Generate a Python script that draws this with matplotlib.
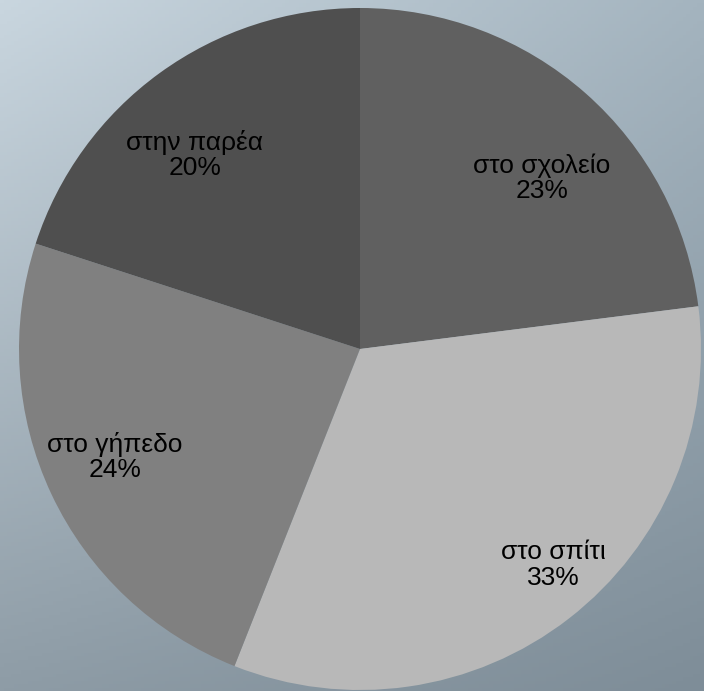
import matplotlib.pyplot as plt
import matplotlib.colors as mcolors
import numpy as np

# data
labels = ['στο σχολείο', 'στο σπίτι', 'στο γήπεδο', 'στην παρέα']
values = [23, 33, 24, 20]
colors = ['#606060', '#b8b8b8', '#808080', '#4f4f4f']
# label placement: distance from centre (radius units), angle nudge (deg)
label_dist = [0.732, 0.851, 0.785, 0.747]
label_shift = [-5.4, 4.1, -1.4, 4.4]

plt.rcParams['font.family'] = ['Liberation Sans', 'DejaVu Sans']

fig = plt.figure(figsize=(7.04, 6.91), dpi=100)

# background gradient (corners: tl, tr, bl, br)
bg = fig.add_axes([0, 0, 1, 1])
tl = np.array(mcolors.to_rgb('#c9d6df'))
tr = np.array(mcolors.to_rgb('#a4b4bf'))
bl = np.array(mcolors.to_rgb('#8e9ca6'))
br = np.array(mcolors.to_rgb('#7e8d98'))
u = np.linspace(0, 1, 200)[None, :, None]
v = np.linspace(0, 1, 200)[:, None, None]
grad = (1 - v) * ((1 - u) * tl + u * tr) + v * ((1 - u) * bl + u * br)
bg.imshow(grad, aspect='auto', extent=[0, 1, 0, 1], origin='upper')
bg.axis('off')

ax = fig.add_axes([0, 0, 1, 1])
ax.patch.set_alpha(0)
wedges, _ = ax.pie(values, colors=colors, startangle=90, counterclock=False,
                   radius=1.0, center=(0, 0))
ax.set_aspect('auto')
R = 341.0
ax.set_xlim(-360 / R, 344 / R)
ax.set_ylim(-342 / R, 349 / R)
ax.axis('off')

for w, lab, val, d, s in zip(wedges, labels, values, label_dist, label_shift):
    ang = np.deg2rad((w.theta1 + w.theta2) / 2 + s)
    ax.text(d * np.cos(ang), d * np.sin(ang), f'{lab}\n{val}%',
            ha='center', va='center', fontsize=19, color='black',
            linespacing=1.09)

fig.savefig('out.png', dpi=100)
